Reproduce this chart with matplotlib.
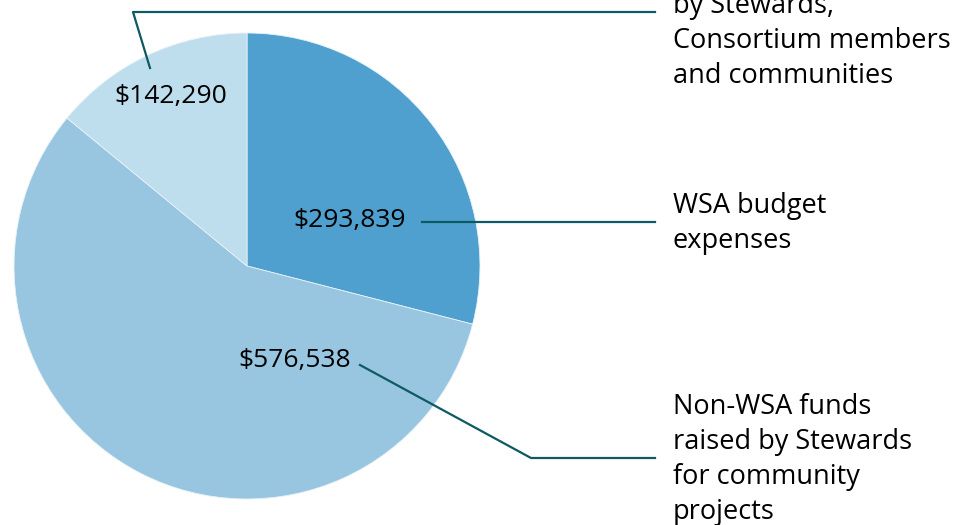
import matplotlib.pyplot as plt

plt.rcParams['font.family'] = ['Open Sans', 'DejaVu Sans']

values = [293839, 576538, 142290]
value_labels = ['$293,839', '$576,538', '$142,290']
categories = [['WSA budget', 'expenses'],
              ['Non-WSA funds', 'raised by Stewards', 'for community', 'projects'],
              ['by Stewards,', 'Consortium members', 'and communities']]
colors = ['#4fa0ce', '#98c6e0', '#bedded']
line_color = '#0e5a63'

H = 525


def Y(y):
    # pixel row (from top) to data y
    return H - y


fig = plt.figure(figsize=(9.57, 5.25), dpi=100)
ax = fig.add_axes([0, 0, 1, 1])

ax.pie(values, colors=colors, startangle=90, counterclock=False,
       center=(247, Y(266)), radius=233,
       wedgeprops=dict(edgecolor='#e8f2f8', linewidth=0.6))

ax.set_xlim(0, 957)
ax.set_ylim(0, H)
ax.set_aspect('equal')
ax.axis('off')

# value labels inside slices
ax.text(350, Y(221), value_labels[0], fontsize=19, ha='center', va='center')
ax.text(295, Y(361), value_labels[1], fontsize=19, ha='center', va='center')
ax.text(171, Y(97), value_labels[2], fontsize=19, ha='center', va='center')

# leader lines
ax.plot([422, 655], [Y(222), Y(222)], color=line_color, lw=1.6)
ax.plot([360, 531, 655], [Y(365), Y(458), Y(458)], color=line_color, lw=1.6)
ax.plot([150, 133, 655], [Y(68), Y(12), Y(12)], color=line_color, lw=1.6)

# category labels, one line at a time
first_baselines = [213, 414, 13]
for lines, y0 in zip(categories, first_baselines):
    for i, line in enumerate(lines):
        ax.text(673, Y(y0 + 35 * i), line, fontsize=19.5, ha='left', va='baseline')

fig.savefig('out.png', dpi=100)
